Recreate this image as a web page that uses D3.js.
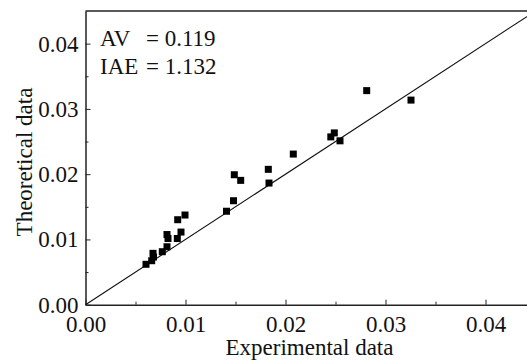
<!DOCTYPE html>
<html>
<head>
<meta charset="utf-8">
<script src="https://cdn.jsdelivr.net/npm/d3@7"></script>
<style>
  body { margin: 0; background: #fff; }
</style>
</head>
<body>
<svg id="chart"></svg>
<script>
// data
const experimental = [0.00605, 0.00662, 0.00675, 0.0068, 0.00768, 0.00815, 0.00815, 0.00825,
  0.00918, 0.00955, 0.00922, 0.00995, 0.0141, 0.0148, 0.01488, 0.01552, 0.01828, 0.01835,
  0.02078, 0.02453, 0.02488, 0.02545, 0.02812, 0.03255];
const theoretical = [0.00619, 0.00674, 0.00787, 0.0073, 0.00812, 0.00888, 0.01075, 0.01014,
  0.01014, 0.01113, 0.01302, 0.01374, 0.01432, 0.01593, 0.01991, 0.01905, 0.02074, 0.01864,
  0.02308, 0.02571, 0.02632, 0.02511, 0.0328, 0.03135];
const tickValues = [0, 0.01, 0.02, 0.03, 0.04];
const minorTicks = [0.005, 0.015, 0.025, 0.035, 0.045];
const statLabels = ["AV", "IAE"];
const statValues = ["= 0.119", "= 1.132"];

const W = 527, H = 363;
const serif = '"Liberation Serif", "Times New Roman", serif';
const svg = d3.select("#chart").attr("width", W).attr("height", H);

// plot box (right edge falls outside the window like the original)
const plotLeft = 85.5, plotRight = 535.5, plotTop = 11, plotBottom = 304.7;

const x = d3.scaleLinear().domain([0, 0.045]).range([plotLeft, plotRight]);
const y = d3.scaleLinear().domain([0, 0.045]).range([plotBottom, plotTop]);

const fmt = d3.format(".2f");

// top border
svg.append("line")
  .attr("x1", plotLeft).attr("x2", plotRight)
  .attr("y1", plotTop).attr("y2", plotTop)
  .attr("stroke", "#222").attr("stroke-width", 1.5);

// minor ticks
svg.append("g")
  .attr("transform", `translate(0,${plotBottom})`)
  .call(d3.axisBottom(x).tickValues(minorTicks).tickSize(-3).tickFormat(""))
  .call(g => g.select(".domain").remove())
  .call(g => g.selectAll("line").attr("stroke", "#222"));
svg.append("g")
  .attr("transform", `translate(${plotLeft},0)`)
  .call(d3.axisLeft(y).tickValues(minorTicks.slice(0, 4)).tickSize(-3).tickFormat(""))
  .call(g => g.select(".domain").remove())
  .call(g => g.selectAll("line").attr("stroke", "#222"));

// x axis
const xAxis = svg.append("g")
  .attr("transform", `translate(0,${plotBottom})`)
  .call(d3.axisBottom(x).tickValues(tickValues).tickSize(-5).tickSizeOuter(0).tickPadding(11).tickFormat(fmt))
  .attr("font-family", serif).attr("font-size", 23);
xAxis.select(".domain").attr("stroke", "#222").attr("stroke-width", 1.5);
xAxis.selectAll("line").attr("stroke", "#222");
xAxis.selectAll("text").style("font-family", serif).attr("fill", "#111");

// y axis
const yAxis = svg.append("g")
  .attr("transform", `translate(${plotLeft},0)`)
  .call(d3.axisLeft(y).tickValues(tickValues).tickSize(-5).tickSizeOuter(0).tickPadding(7).tickFormat(fmt))
  .attr("font-family", serif).attr("font-size", 23);
yAxis.select(".domain").attr("stroke", "#222").attr("stroke-width", 1.5);
yAxis.selectAll("line").attr("stroke", "#222");
yAxis.selectAll("text").style("font-family", serif).attr("fill", "#111");

// axis titles
svg.append("text")
  .attr("x", (plotLeft + plotRight) / 2 - 1).attr("y", 355)
  .attr("text-anchor", "middle")
  .style("font-family", serif).style("font-size", "23px").attr("fill", "#111")
  .text("Experimental data");

svg.append("text")
  .attr("transform", "translate(32,162) rotate(-90)")
  .attr("text-anchor", "middle")
  .style("font-family", serif).style("font-size", "23px").attr("fill", "#111")
  .text("Theoretical data");

// y = x reference line
svg.append("line")
  .attr("x1", x(0)).attr("y1", y(0))
  .attr("x2", x(0.045)).attr("y2", y(0.045))
  .attr("stroke", "#111").attr("stroke-width", 1.1);

// points
const pts = experimental.map((d, i) => ({ ex: d, th: theoretical[i] }));
svg.append("g").selectAll("rect")
  .data(pts)
  .join("rect")
  .attr("x", d => x(d.ex) - 3.5)
  .attr("y", d => y(d.th) - 3.5)
  .attr("width", 7).attr("height", 7)
  .attr("fill", "#000");

// stats text
const stats = svg.append("g");
statLabels.forEach((lab, i) => {
  stats.append("text").attr("x", 100).attr("y", 46 + i * 28)
    .style("font-family", serif).style("font-size", "23px").attr("fill", "#111").text(lab);
  stats.append("text").attr("x", 146).attr("y", 46 + i * 28)
    .style("font-family", serif).style("font-size", "23px").attr("fill", "#111").text(statValues[i]);
});
</script>
</body>
</html>
